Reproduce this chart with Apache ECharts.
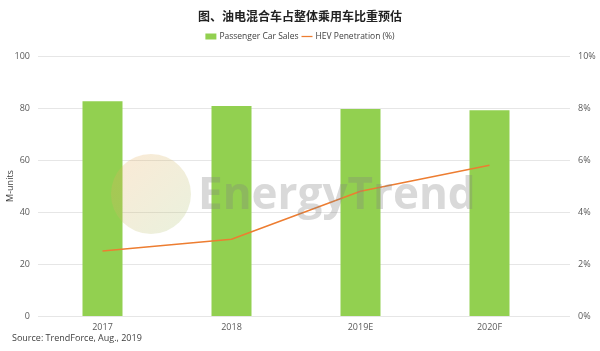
<!DOCTYPE html>
<html>
<head>
<meta charset="utf-8">
<script src="https://cdn.jsdelivr.net/npm/echarts@6/dist/echarts.min.js"></script>
<style>
  html, body { margin: 0; padding: 0; background: #fff; }
  #chart { width: 600px; height: 351px; }
</style>
</head>
<body>
<div id="chart"></div>
<script>
var categories = ['2017', '2018', '2019E', '2020F']
var carSales = [82.6, 80.8, 79.6, 79.1]
var hevPenetration = [2.5, 2.95, 4.8, 5.8]
var leftTicks = [0, 20, 40, 60, 80, 100]
var rightTicks = [0, 2, 4, 6, 8, 10]

var font = '"Open Sans", "Noto Sans", sans-serif'
var labelColor = '#595959'

var chart = echarts.init(document.getElementById('chart'))
chart.setOption({
  animation: false,
  title: {
    text: '图、油电混合车占整体乘用车比重预估',
    left: 'center',
    top: 5,
    textStyle: {
      fontFamily: '"Noto Sans CJK SC", sans-serif',
      fontSize: 12,
      fontWeight: 'bold',
      color: '#222'
    }
  },
  legend: {
    top: 27,
    left: 'center',
    itemWidth: 11,
    itemHeight: 6,
    itemGap: 3,
    textStyle: { fontFamily: font, fontSize: 8.5, color: '#404040', padding: [0, 0, 0, -2] },
    data: [
      { name: 'Passenger Car Sales', icon: 'rect' },
      { name: 'HEV Penetration (%)', icon: 'path://M0,0h14v1.6h-14z' }
    ]
  },
  graphic: [
    {
      type: 'circle',
      z: 10,
      shape: { cx: 151, cy: 194, r: 40 },
      style: {
        fill: {
          type: 'linear', x: 0, y: 0, x2: 1, y2: 1,
          colorStops: [
            { offset: 0, color: 'rgba(240,170,90,0.25)' },
            { offset: 1, color: 'rgba(170,200,120,0.25)' }
          ]
        }
      }
    },
    {
      type: 'text',
      left: 198,
      top: 174,
      z: 10,
      style: {
        text: 'EnergyTrend',
        font: 'bold 44px "Open Sans", sans-serif',
        fill: 'rgba(130,130,130,0.3)'
      }
    },
    {
      type: 'text',
      left: 12,
      top: 334,
      style: {
        text: 'Source: TrendForce, Aug., 2019',
        font: '9px "Open Sans", sans-serif',
        fill: '#404040'
      }
    }
  ],
  grid: [
    { left: 38, right: 46, top: 56, bottom: 35, outerBoundsMode: 'none' },
    { left: 38, right: 30, top: 56, bottom: 35, outerBoundsMode: 'none' }
  ],
  xAxis: [
    {
      type: 'category',
      gridIndex: 0,
      data: categories,
      axisLine: { show: false },
      axisTick: { show: false },
      axisLabel: { fontFamily: font, fontSize: 9, color: labelColor, margin: 7 }
    },
    {
      type: 'category',
      gridIndex: 1,
      data: categories,
      show: false
    }
  ],
  yAxis: [
    {
      type: 'value',
      gridIndex: 0,
      name: 'M-units',
      nameLocation: 'middle',
      nameGap: 23,
      nameMoveOverlap: false,
      nameTextStyle: { fontFamily: font, fontSize: 9, color: '#404040' },
      min: leftTicks[0],
      max: leftTicks[leftTicks.length - 1],
      interval: 20,
      splitLine: { show: false },
      axisLabel: { fontFamily: font, fontSize: 9, color: labelColor, margin: 8 }
    },
    {
      type: 'value',
      gridIndex: 0,
      position: 'right',
      min: rightTicks[0],
      max: rightTicks[rightTicks.length - 1],
      interval: 2,
      splitLine: { show: false },
      axisLabel: {
        fontFamily: font, fontSize: 9, color: labelColor, margin: 24,
        formatter: '{value}%'
      }
    },
    {
      type: 'value',
      gridIndex: 1,
      min: leftTicks[0],
      max: leftTicks[leftTicks.length - 1],
      interval: 20,
      axisLabel: { show: false },
      splitLine: { lineStyle: { color: '#e6e6e6', width: 1 } }
    }
  ],
  series: [
    {
      name: 'Passenger Car Sales',
      type: 'bar',
      xAxisIndex: 0,
      yAxisIndex: 0,
      barWidth: 40,
      itemStyle: { color: '#92d050' },
      data: carSales,
      z: 1
    },
    {
      name: 'HEV Penetration (%)',
      type: 'line',
      xAxisIndex: 0,
      yAxisIndex: 1,
      symbol: 'none',
      lineStyle: { color: '#ed7d31', width: 1.5 },
      itemStyle: { color: '#ed7d31' },
      data: hevPenetration,
      z: 3
    }
  ]
})
</script>
</body>
</html>
